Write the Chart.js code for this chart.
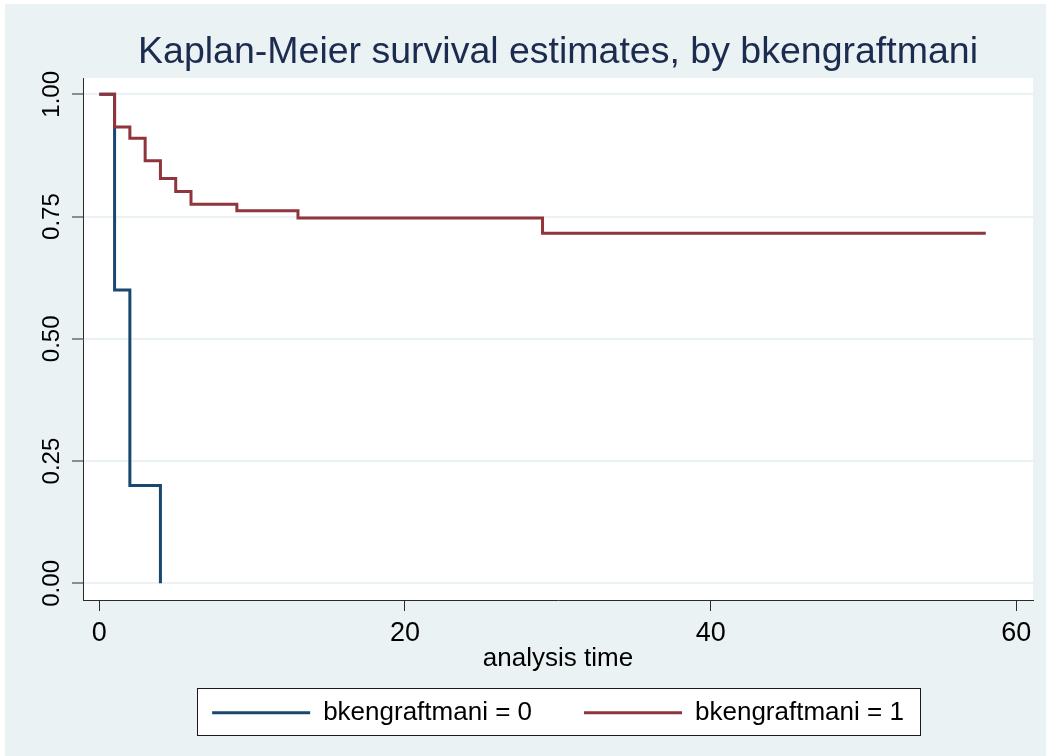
<!DOCTYPE html>
<html>
<head>
<meta charset="utf-8">
<script src="https://cdn.jsdelivr.net/npm/chart.js@4.4.1/dist/chart.umd.min.js"></script>
<style>
  html, body { margin: 0; padding: 0; background: #ffffff; }
  #c { display: block; }
</style>
</head>
<body>
<canvas id="c" width="1046" height="756"></canvas>
<script>
// ---- data ----
const seriesNames = ['bkengraftmani = 0', 'bkengraftmani = 1'];
const timesGroup0 = [0, 1, 2, 4];
const survGroup0  = [1.000, 0.600, 0.200, 0.000];
const timesGroup1 = [0, 1, 2, 3, 4, 5, 6, 9, 13, 29, 58];
const survGroup1  = [1.000, 0.933, 0.910, 0.864, 0.828, 0.801, 0.775, 0.762, 0.747, 0.716, 0.716];
const xTickValues = [0, 20, 40, 60];
const xTickLabels = ['0', '20', '40', '60'];
const yTickValues = [0, 0.25, 0.5, 0.75, 1];
const yTickLabels = ['0.00', '0.25', '0.50', '0.75', '1.00'];
const titleText = 'Kaplan-Meier survival estimates, by bkengraftmani';
const xTitleText = 'analysis time';

const FONT = "'Liberation Sans', Arial, Helvetica, sans-serif";
const BG = '#eaf2f3';
const BLUE = '#1a476f';
const RED = '#90353b';
const AXIS = '#2b2b2b';

function toPoints(xs, ys) { return xs.map((x, i) => ({ x: x, y: ys[i] })); }

const bgPlugin = {
  id: 'stataBackground',
  beforeDraw(chart) {
    const { ctx, chartArea, width, height } = chart;
    ctx.save();
    ctx.fillStyle = '#ffffff';
    ctx.fillRect(0, 0, width, height);
    ctx.fillStyle = BG;
    ctx.fillRect(5, 4, width - 5, height - 4);
    ctx.fillStyle = '#ffffff';
    ctx.fillRect(chartArea.left, chartArea.top, chartArea.right - chartArea.left, chartArea.bottom - chartArea.top);
    // legend frame
    const lg = chart.legend;
    if (lg && lg.legendHitBoxes && lg.legendHitBoxes.length) {
      let l = Infinity, r = -Infinity, cy = 0;
      lg.legendHitBoxes.forEach(h => {
        l = Math.min(l, h.left);
        r = Math.max(r, h.left + h.width);
        cy = h.top + h.height / 2;
      });
      const x0 = Math.round(l - 15) + 0.5, x1 = Math.round(r + 16) + 0.5;
      const y0 = Math.round(cy - 25) + 0.5, y1 = Math.round(cy + 22) + 0.5;
      ctx.fillStyle = '#ffffff';
      ctx.fillRect(x0, y0, x1 - x0, y1 - y0);
      ctx.strokeStyle = '#1a1a1a';
      ctx.lineWidth = 1;
      ctx.strokeRect(x0, y0, x1 - x0, y1 - y0);
    }
    ctx.restore();
  }
};

new Chart(document.getElementById('c'), {
  type: 'line',
  data: {
    datasets: [
      {
        label: seriesNames[0],
        data: toPoints(timesGroup0, survGroup0),
        borderColor: BLUE,
        backgroundColor: BLUE,
        borderWidth: 3,
        stepped: 'before',
        pointRadius: 0,
        pointHoverRadius: 0,
        pointStyle: 'line',
        fill: false,
        borderCapStyle: 'butt',
        borderJoinStyle: 'miter',
        order: 1
      },
      {
        label: seriesNames[1],
        data: toPoints(timesGroup1, survGroup1),
        borderColor: RED,
        backgroundColor: RED,
        borderWidth: 3,
        stepped: 'before',
        pointRadius: 0,
        pointHoverRadius: 0,
        pointStyle: 'line',
        fill: false,
        borderCapStyle: 'butt',
        borderJoinStyle: 'miter',
        order: 0
      }
    ]
  },
  options: {
    responsive: false,
    devicePixelRatio: 1,
    animation: false,
    events: [],
    layout: { padding: { top: 0, left: 0, right: 13, bottom: 20.3 } },
    plugins: {
      tooltip: { enabled: false },
      title: {
        display: true,
        text: titleText,
        color: '#1c2b50',
        fullSize: false,
        font: { family: FONT, size: 37.5, weight: 'normal', lineHeight: 1.2 },
        padding: { top: 30.1, bottom: 2.9 }
      },
      legend: {
        display: true,
        position: 'bottom',
        fullSize: false,
        labels: {
          usePointStyle: true,
          pointStyle: 'line',
          pointStyleWidth: 98,
          padding: 52,
          color: '#000000',
          font: { family: FONT, size: 26, weight: 'normal' },
          sort: (a, b) => a.datasetIndex - b.datasetIndex
        }
      }
    },
    scales: {
      x: {
        type: 'linear',
        min: -1.066,
        max: 61.09,
        afterBuildTicks(scale) { scale.ticks = xTickValues.map(v => ({ value: v })); },
        afterFit(scale) { scale.height = 47.7; },
        ticks: {
          autoSkip: false,
          includeBounds: false,
          maxRotation: 0,
          minRotation: 0,
          padding: 6,
          color: '#000000',
          font: { family: FONT, size: 27 },
          callback: (v) => xTickLabels[xTickValues.indexOf(v)]
        },
        grid: {
          drawOnChartArea: false,
          drawTicks: true,
          tickLength: 11,
          tickColor: AXIS,
          tickWidth: 1
        },
        border: { display: true, color: AXIS, width: 1 },
        title: {
          display: true,
          text: xTitleText,
          color: '#000000',
          font: { family: FONT, size: 26, lineHeight: 1.2 },
          padding: { top: 0, bottom: -26.6 }
        }
      },
      y: {
        type: 'linear',
        min: -0.034,
        max: 1.0333,
        afterBuildTicks(scale) { scale.ticks = yTickValues.map(v => ({ value: v })); },
        afterFit(scale) { scale.width = 83; },
        ticks: {
          autoSkip: false,
          includeBounds: false,
          minRotation: 90,
          maxRotation: 90,
          crossAlign: 'center',
          padding: -3.8,
          color: '#000000',
          font: { family: FONT, size: 24 },
          callback: (v) => yTickLabels[yTickValues.indexOf(v)]
        },
        grid: {
          drawOnChartArea: true,
          drawTicks: true,
          tickLength: 11,
          color: BG,
          lineWidth: 2,
          tickColor: AXIS,
          tickWidth: 1
        },
        border: { display: true, color: AXIS, width: 1 }
      }
    }
  },
  plugins: [bgPlugin]
});
</script>
</body>
</html>
